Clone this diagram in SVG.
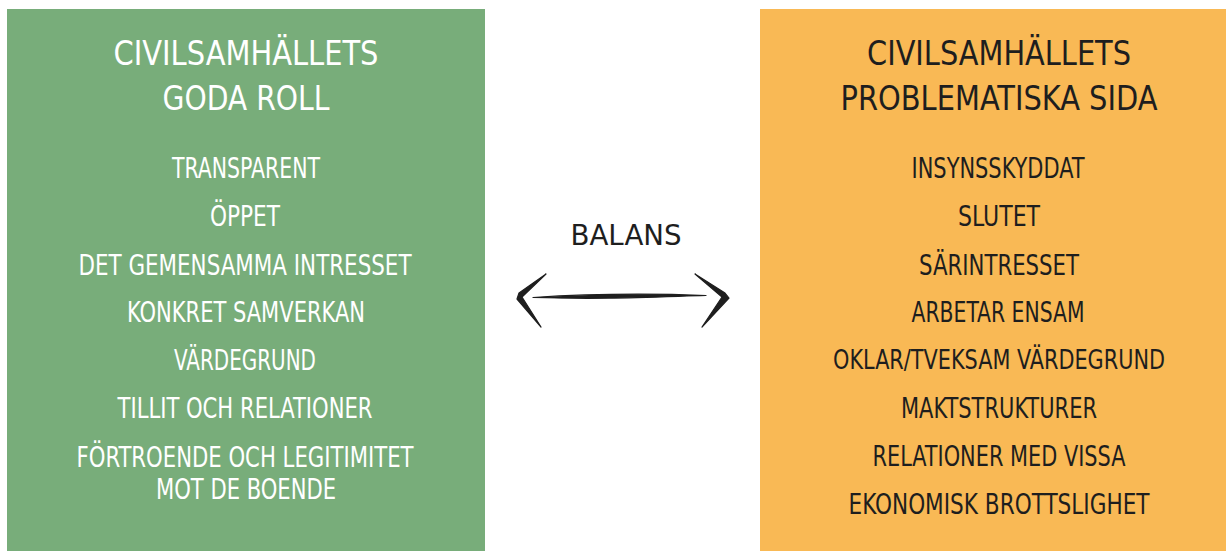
<svg xmlns="http://www.w3.org/2000/svg" width="1226" height="551" viewBox="0 0 1226 551">
<style>
.t{font-family:"Liberation Sans Narrow","DejaVu Sans Condensed","Liberation Sans",sans-serif;text-anchor:middle}
.w{fill:#ffffff}
.k{fill:#1e1e1e}
.h{font-size:34px}
.i{font-size:28px}
.s{font-size:26px}
.ar{fill:#1e1e1e;stroke:#1e1e1e;stroke-width:1.2;stroke-linejoin:round}
</style>
<rect width="1226" height="551" fill="#ffffff"/>
<g id="good">
<rect x="7" y="9" width="478" height="542" fill="#78ad7a"/>
<text class="t w h" x="246" y="65" textLength="265" lengthAdjust="spacingAndGlyphs">CIVILSAMHÄLLETS</text>
<text class="t w h" x="246" y="110" textLength="167" lengthAdjust="spacingAndGlyphs">GODA ROLL</text>
<text class="t w i" x="246" y="178" textLength="148" lengthAdjust="spacingAndGlyphs">TRANSPARENT</text>
<text class="t w i" x="245" y="226" textLength="70" lengthAdjust="spacingAndGlyphs">ÖPPET</text>
<text class="t w i" x="245" y="275" textLength="333" lengthAdjust="spacingAndGlyphs">DET GEMENSAMMA INTRESSET</text>
<text class="t w i" x="246" y="322" textLength="238" lengthAdjust="spacingAndGlyphs">KONKRET SAMVERKAN</text>
<text class="t w i" x="245" y="370" textLength="142" lengthAdjust="spacingAndGlyphs">VÄRDEGRUND</text>
<text class="t w i" x="245" y="418" textLength="255" lengthAdjust="spacingAndGlyphs">TILLIT OCH RELATIONER</text>
<text class="t w i" x="245" y="467" textLength="337" lengthAdjust="spacingAndGlyphs">FÖRTROENDE OCH LEGITIMITET</text>
<text class="t w i" x="246" y="499" textLength="180" lengthAdjust="spacingAndGlyphs">MOT DE BOENDE</text>
</g>
<g id="problem">
<rect x="760" y="9" width="466" height="542" fill="#f9b955"/>
<text class="t k h" x="999" y="65" textLength="264" lengthAdjust="spacingAndGlyphs">CIVILSAMHÄLLETS</text>
<text class="t k h" x="999" y="110" textLength="317" lengthAdjust="spacingAndGlyphs">PROBLEMATISKA SIDA</text>
<text class="t k i" x="998" y="178" textLength="173" lengthAdjust="spacingAndGlyphs">INSYNSSKYDDAT</text>
<text class="t k i" x="999" y="226" textLength="82" lengthAdjust="spacingAndGlyphs">SLUTET</text>
<text class="t k i" x="999" y="275" textLength="160" lengthAdjust="spacingAndGlyphs">SÄRINTRESSET</text>
<text class="t k i" x="998" y="322" textLength="173" lengthAdjust="spacingAndGlyphs">ARBETAR ENSAM</text>
<text class="t k s" x="999" y="369" textLength="332" lengthAdjust="spacingAndGlyphs">OKLAR/TVEKSAM VÄRDEGRUND</text>
<text class="t k i" x="999" y="418" textLength="196" lengthAdjust="spacingAndGlyphs">MAKTSTRUKTURER</text>
<text class="t k i" x="999" y="466" textLength="253" lengthAdjust="spacingAndGlyphs">RELATIONER MED VISSA</text>
<text class="t k i" x="999" y="514" textLength="301" lengthAdjust="spacingAndGlyphs">EKONOMISK BROTTSLIGHET</text>
</g>
<g id="balance">
<text class="t k i" x="626" y="245" textLength="111" lengthAdjust="spacingAndGlyphs">BALANS</text>
</g>
<g id="connectors">
<path class="ar" d="M533 297.5 C 580 294.5, 640 293, 706 295.5 C 640 297.5, 600 299.5, 533 297.5 Z"/>
<path class="ar" d="M546 274 L 519 293 L 517 299 L 541 327 L 522 297 L 546 274 Z"/>
<path class="ar" d="M695 274 L 725 293 L 729 298 L 702 327 L 722 297 L 695 274 Z"/>
</g>
</svg>
